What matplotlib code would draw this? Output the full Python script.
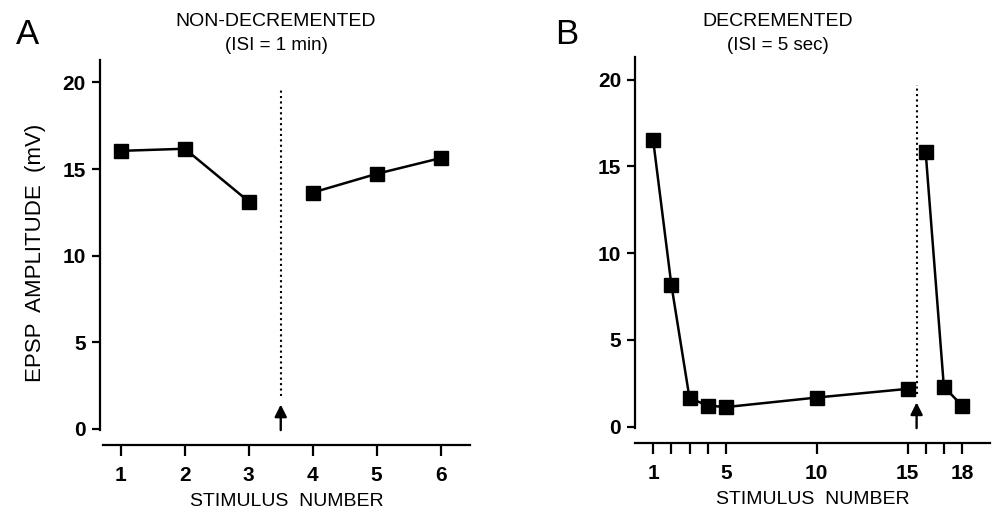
import matplotlib
matplotlib.use('Agg')
import matplotlib.pyplot as plt

plt.rcParams['font.family'] = ['Liberation Sans', 'DejaVu Sans']

# Panel A: non-decremented (ISI = 1 min)
a_stim = [1, 2, 3, 4, 5, 6]
a_amp = [16.05, 16.17, 13.12, 13.64, 14.72, 15.63]
a_ticks = [1, 2, 3, 4, 5, 6]
a_ticklabels = ['1', '2', '3', '4', '5', '6']
a_break = 3.5

# Panel B: decremented (ISI = 5 sec)
b_stim_pre = [1, 2, 3, 4, 5, 10, 15]
b_amp_pre = [16.5, 8.18, 1.64, 1.21, 1.12, 1.67, 2.17]
b_stim_post = [16, 17, 18]
b_amp_post = [15.8, 2.3, 1.2]
b_ticks = [1, 2, 3, 4, 5, 10, 15, 16, 17, 18]
b_ticklabels = ['1', '', '', '', '5', '10', '15', '', '', '18']
b_break = 15.5

y_ticks = [0, 5, 10, 15, 20]

fig = plt.figure(figsize=(10.02, 5.12), dpi=100)
W, H = 1002, 512


def make_axes(left, right, top, bottom):
    return fig.add_axes([left / W, 1 - bottom / H, (right - left) / W, (bottom - top) / H])


def style_axes(ax, xlim, ticks, labels):
    ax.set_xlim(*xlim)
    ax.set_ylim(-0.95, 21.3)
    for s in ['top', 'right']:
        ax.spines[s].set_visible(False)
    ax.spines['left'].set_bounds(-0.1, 21.3)
    ax.spines['left'].set_linewidth(1.6)
    ax.spines['bottom'].set_linewidth(1.6)
    ax.set_yticks(y_ticks)
    ax.set_yticklabels([str(t) for t in y_ticks], fontweight='bold')
    ax.set_xticks(ticks)
    ax.set_xticklabels(labels, fontweight='bold')
    ax.tick_params(axis='y', direction='out', length=6, width=1.6, pad=4, labelsize=15)
    ax.tick_params(axis='x', direction='out', length=8, width=1.6, pad=7, labelsize=15)
    ax.set_xlabel('STIMULUS  NUMBER', fontsize=14, labelpad=6)


def draw_break(ax, x):
    ax.plot([x, x], [1.9, 19.7], color='black', lw=1.5, linestyle=(0, (1, 1.6)))
    ax.annotate('', xy=(x, 1.55), xytext=(x, -0.25),
                arrowprops=dict(arrowstyle='-|>', color='black', lw=1.7, mutation_scale=18))


line_kw = dict(color='black', lw=1.8, marker='s', markersize=9.5, markerfacecolor='black')

# Panel A
axA = make_axes(103, 470, 60, 445)
axA.spines['left'].set_position(('data', 0.67))
axA.plot(a_stim[:3], a_amp[:3], **line_kw)
axA.plot(a_stim[3:], a_amp[3:], **line_kw)
draw_break(axA, a_break)
style_axes(axA, (0.72, 6.46), a_ticks, a_ticklabels)
axA.set_ylabel('EPSP  AMPLITUDE  (mV)', fontsize=16, labelpad=12)

# Panel B
axB = make_axes(635, 990, 57, 443)
axB.plot(b_stim_pre, b_amp_pre, **line_kw)
axB.plot(b_stim_post, b_amp_post, **line_kw)
draw_break(axB, b_break)
style_axes(axB, (0.0, 19.54), b_ticks, b_ticklabels)

# titles and panel letters
fig.text(276 / W, 1 - 22 / H, 'NON-DECREMENTED', ha='center', va='center', fontsize=14)
fig.text(276 / W, 1 - 45 / H, '(ISI = 1 min)', ha='center', va='center', fontsize=13.5)
fig.text(778 / W, 1 - 22 / H, 'DECREMENTED', ha='center', va='center', fontsize=14)
fig.text(778 / W, 1 - 45 / H, '(ISI = 5 sec)', ha='center', va='center', fontsize=13.5)
fig.text(27 / W, 1 - 35 / H, 'A', ha='center', va='center', fontsize=25)
fig.text(567 / W, 1 - 35 / H, 'B', ha='center', va='center', fontsize=25)

fig.savefig('out.png', dpi=100)
